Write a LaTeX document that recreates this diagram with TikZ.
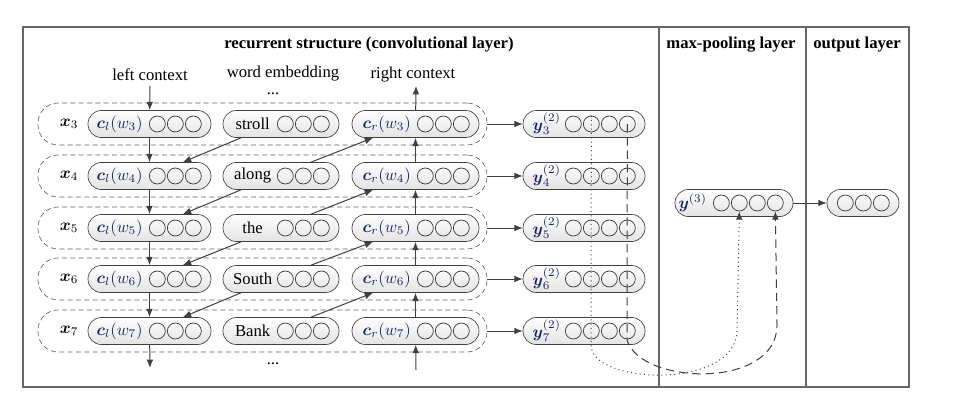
\documentclass[tikz,border=0pt]{standalone}
\usepackage{amsmath}
\usepackage{fontspec}
\setmainfont{Liberation Serif}
\usetikzlibrary{arrows.meta}
\definecolor{mathblue}{RGB}{28,36,96}
\definecolor{linegray}{RGB}{64,64,64}
\tikzset{>={Latex[length=5pt,width=4pt]}}
\tikzset{
    unit/.style={draw=linegray, rounded corners=8pt, top color=white, bottom color=gray!22,
                 minimum height=16.2pt, inner sep=0pt},
    ring/.style={draw=linegray, circle, minimum size=9.6pt, inner sep=0pt, line width=0.45pt},
    lbl/.style={inner sep=0pt, text=mathblue},
    rowbox/.style={draw=gray!75!black, dash pattern=on 3pt off 2pt, rounded corners=12pt,
                   minimum width=269.4pt, minimum height=25.2pt},
    link/.style={->, draw=linegray, line width=0.6pt},
    panel/.style={draw=gray!80!black, line width=0.7pt},
    head/.style={font=\bfseries},
}
\newcommand\unitbox[7]{
    \node[unit, minimum width=#4*0.6pt] (#1) at (#2,#3) {};
    \node[lbl] (#1l) at ([xshift=#5*0.6pt]#1.west) {#6};
    \foreach \k in {1,...,#7}
        \node[ring] (#1c\k) at ([xshift={(\k-#7-1)*10.8pt}]#1.east) {};
}
\newcommand\layerrow[3]{
    \node[rowbox] (row#1) at (262.5,#2) {};
    \node (x#1) at (69,#2) {$\boldsymbol{x}_#1$};
    \unitbox{cl#1}{149.5}{#2}{123}{32}{$\boldsymbol{c}_l(w_#1)$}{3}
    \unitbox{wd#1}{281}{#2}{116}{30}{\textcolor{black}{#3}}{3}
    \unitbox{cr#1}{415.5}{#2}{127}{35}{$\boldsymbol{c}_r(w_#1)$}{3}
    \unitbox{y#1}{584}{#2}{122}{24}{$\boldsymbol{y}_#1^{(2)}$}{4}
    \draw[link] (row#1) -- (y#1);
}

\begin{document}
\begin{tikzpicture}[x=0.6pt, y=-0.6pt]
    \useasboundingbox (0,0) rectangle (964,402);
    \draw[panel] (23,27) rectangle (909,387);
    \draw[panel] (659,27) -- (659,387);
    \draw[panel] (806,27) -- (806,387);
    \node[head] (t1) at (369,45) {recurrent structure (convolutional layer)};
    \node[head] (t2) at (731,45) {max-pooling layer};
    \node[head] (t3) at (857,45) {output layer};
    \node (lc) at (150,75) {left context};
    \node (we) at (283,74) {word embedding};
    \node[inner sep=0pt] (dtop) at (273,94) {...};
    \node (rc) at (413,75) {right context};
    \node[inner sep=0pt] (dbot) at (273,364) {...};
    \layerrow{3}{124}{stroll}
    \layerrow{4}{176}{along}
    \layerrow{5}{228}{the}
    \layerrow{6}{279}{South}
    \layerrow{7}{331}{Bank}
    \unitbox{ymax}{734}{203}{118}{18}{$\boldsymbol{y}^{(3)}$}{4}
    \unitbox{out}{863}{203}{72}{0}{}{3}
    \draw[link] (ymax) -- (out);
    % left and right context chains
    \coordinate (lin) at (150,86);
    \coordinate (rout) at (416,86);
    \coordinate (lout) at (150,368);
    \coordinate (rin) at (416,370);
    \draw[link] (lin) -- (cl3);
    \draw[link] (cr3) -- (rout);
    \draw[link] (cl7) -- (lout);
    \draw[link] (rin) -- (cr7);
    \foreach \i/\j in {3/4,4/5,5/6,6/7}{
        \draw[link] (cl\i) -- (cl\j);
        \draw[link] (cr\j) -- (cr\i);
        \draw[link] ([xshift=-24pt]wd\i.south) -- ([xshift=20pt]cl\j.north);
        \draw[link] ([xshift=18pt]wd\j.north) -- ([xshift=-25.5pt]cr\i.south);
    }
    % max-pooling
    \draw[->, linegray, dotted, line width=0.6pt] (y3c2.north) -- (591,345)
        .. controls (591,385) and (737,390) .. (737,330) -- (ymaxc2.south);
    \draw[->, linegray, dash pattern=on 5pt off 3pt, line width=0.6pt] (y3c4.center) -- (627,340)
        .. controls (640,385) and (777,390) .. (777,325) -- (ymaxc4.south);
\end{tikzpicture}
\end{document}
